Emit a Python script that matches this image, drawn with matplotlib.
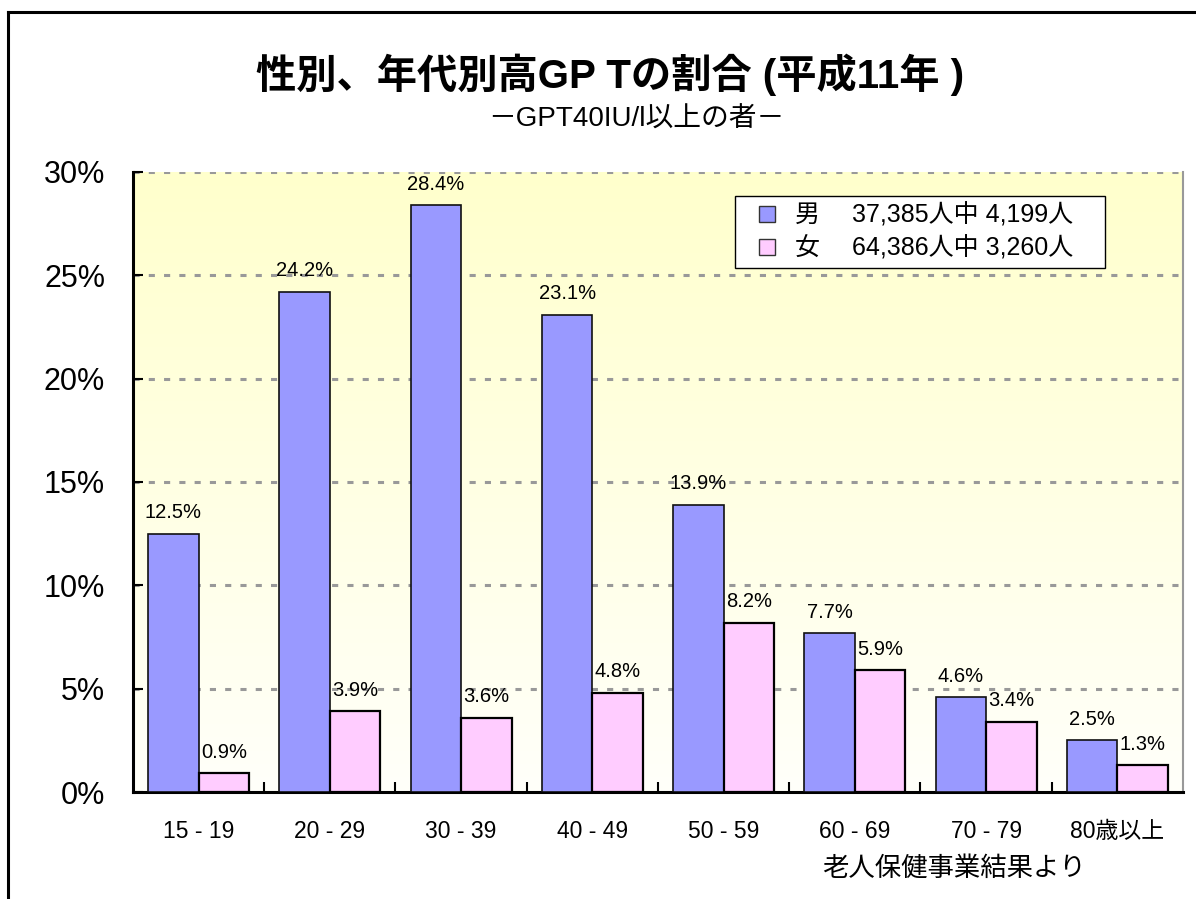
import numpy as np
import matplotlib
matplotlib.use("Agg")
import matplotlib.pyplot as plt
from matplotlib.lines import Line2D
from matplotlib.colors import LinearSegmentedColormap

plt.rcParams["font.family"] = ["Liberation Sans", "Noto Sans CJK JP", "DejaVu Sans"]

# 年代区分と高GPT割合 (%)
age_groups = ["15 - 19", "20 - 29", "30 - 39", "40 - 49", "50 - 59",
              "60 - 69", "70 - 79", "80歳以上"]
male_pct = [12.5, 24.2, 28.4, 23.1, 13.9, 7.7, 4.6, 2.5]
female_pct = [0.9, 3.9, 3.6, 4.8, 8.2, 5.9, 3.4, 1.3]
male_label = "男　 37,385人中 4,199人　"
female_label = "女　 64,386人中 3,260人　"

MALE_C, FEMALE_C = "#9999FF", "#FFCCFF"
GRID_C = "#999999"

fig = plt.figure(figsize=(11.96, 8.99), dpi=100)
ax = fig.add_axes([0.1112, 0.119, 0.8779, 0.6897])

# 背景のグラデーション (上: 淡黄 → 下: ほぼ白)
grad = np.linspace(0, 1, 256).reshape(-1, 1)
cmap = LinearSegmentedColormap.from_list("bg", ["#FFFFCC", "#FFFFFA"])
ax.imshow(grad, aspect="auto", cmap=cmap, extent=(0, 1, 0, 1),
          transform=ax.transAxes, zorder=0)

x = np.arange(len(age_groups))
w = 0.385
bm = ax.bar(x - w / 2, male_pct, w, color=MALE_C, edgecolor="#111111",
            linewidth=1.2, zorder=3)
bf = ax.bar(x + w / 2, female_pct, w, color=FEMALE_C, edgecolor="#000000",
            linewidth=1.6, zorder=3)

for bars, vals in ((bm, male_pct), (bf, female_pct)):
    for b, v in zip(bars, vals):
        ax.text(b.get_x() + b.get_width() / 2, v + 0.55, f"{v:.1f}%",
                ha="center", va="bottom", fontsize=14.5, zorder=4)

ax.set_xlim(-0.5, len(age_groups) - 0.5)
ax.set_ylim(0, 30)
ax.set_yticks(range(0, 31, 5))
ax.set_yticklabels([f"{t}%" for t in range(0, 31, 5)], fontsize=22)
ax.set_xticks(x)
ax.set_xticklabels(age_groups, fontsize=16.5)
ax.set_xticks(np.arange(0.5, len(age_groups) - 0.5, 1), minor=True)
ax.tick_params(axis="x", which="major", length=0, pad=20)
ax.tick_params(axis="x", which="minor", direction="in", length=7, width=1.5)
ax.tick_params(axis="y", direction="in", length=7, width=1.5, pad=20)

for t in range(5, 31, 5):
    ax.axhline(t, color=GRID_C, lw=2.2, ls=(0, (2, 3)), zorder=1)

for sp in ("left", "bottom"):
    ax.spines[sp].set_linewidth(2.2)
ax.spines["top"].set_visible(False)
ax.spines["right"].set_color("#999999")
ax.spines["right"].set_linewidth(1.5)

handles = [Line2D([], [], ls="none", marker="s", ms=11, mfc=c,
                  mec="#333333", mew=1.0) for c in (MALE_C, FEMALE_C)]
ax.legend(handles, [male_label, female_label], loc="upper left",
          bbox_to_anchor=(0.573, 0.962), fontsize=18, frameon=True,
          fancybox=False, edgecolor="black", framealpha=1,
          handlelength=2.0, handletextpad=0.1, borderpad=0.3,
          labelspacing=0.35, borderaxespad=0)

fig.text(0.51, 0.917, "性別、年代別高GP Tの割合 (平成11年 )", ha="center",
         va="center", fontsize=29, fontweight="bold")
fig.text(0.532, 0.867, "－GPT40IU/l以上の者－", ha="center", va="center",
         fontsize=20)
fig.text(0.798, 0.034, "老人保健事業結果より", ha="center", va="center",
         fontsize=19, style="italic")

# 外枠 (左・上)
fig.add_artist(Line2D([8 / 1196, 8 / 1196], [0, 1 - 12 / 899],
                      color="black", lw=2.2, transform=fig.transFigure))
fig.add_artist(Line2D([8 / 1196, 1], [1 - 12 / 899, 1 - 12 / 899],
                      color="black", lw=2.2, transform=fig.transFigure))

fig.savefig("out.png", facecolor="white")
